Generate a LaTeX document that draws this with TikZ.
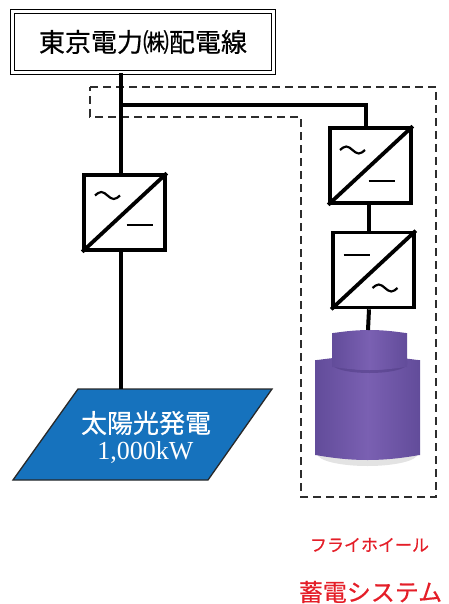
\documentclass[tikz,border=0pt]{standalone}
\usepackage{fontspec}
\setmainfont{Liberation Serif}
\newfontfamily\cjk[FakeBold=0.5]{Noto Sans CJK JP}
\usetikzlibrary{calc}
\definecolor{pvblue}{RGB}{22,114,189}
\definecolor{pvedge}{RGB}{40,40,40}
\definecolor{dashgray}{RGB}{45,45,45}
\definecolor{flyred}{RGB}{228,30,40}
\definecolor{cylmid}{RGB}{122,96,178}
\definecolor{cyledge}{RGB}{98,76,154}
\definecolor{cyldark}{RGB}{80,60,132}
\tikzset{
  wire/.style={line width=4pt, black},
  conv/.style={draw, line width=3.6pt, minimum width=81pt, minimum height=75pt, inner sep=0pt},
  sym/.style={line width=2.2pt, black},
  zone/.style={dash pattern=on 8pt off 5pt, line width=1.8pt, dashgray},
  acwave/.pic={\draw[sym] (-12.5,0) sin (-6.25,-3.5) cos (0,0) sin (6.25,3.5) cos (12.5,0);},
  dcbar/.pic={\draw[sym] (-13,0) -- (13,0);},
  label/.style={font=\cjk\fontsize{26}{30}\selectfont, inner sep=0pt},
}
\begin{document}
\begin{tikzpicture}[x=1pt,y=-1pt]
\useasboundingbox (0,0) rectangle (448,604);

% storage zone boundary
\draw[zone] (90,87) -- (436,87) -- (436,497) -- (301,497) -- (301,117) -- (90,117) -- cycle;

% grid connection
\node[draw, double, double distance=2.4pt, line width=1.3pt,
      minimum width=261pt, minimum height=61pt, inner sep=0pt,
      label] (grid) at (143,42) {東京電力㈱配電線};

% converters
\node[conv] (c1) at (124.5,212.5) {};
\node[conv] (c2) at (370.5,165.5) {};
\node[conv] (c3) at (373.5,270) {};
\foreach \c in {c1,c2,c3}
  \draw[line width=3.8pt] (\c.south west) -- (\c.north east);
\pic at ($(c1.center)+(-17,-17)$) {acwave};
\pic at ($(c1.center)+(15,12.5)$) {dcbar};
\pic at ($(c2.center)+(-18,-15.5)$) {acwave};
\pic at ($(c2.center)+(11,15.5)$) {dcbar};
\pic at ($(c3.center)+(-17,-15)$) {dcbar};
\pic at ($(c3.center)+(11.5,18)$) {acwave};

% photovoltaic plant
\draw[fill=pvblue, draw=pvedge, line width=1.3pt]
  (78,389) -- (272,389) -- (208,480) -- (13,480) -- cycle;
\coordinate (pvtop) at (121,389);
\node[label, text=white, align=center] (pvname) at (146,423) {太陽光発電};
\node[inner sep=0pt, text=white, font=\fontsize{26}{30}\selectfont] (pvpower) at (145.5,452) {1,000kW};

% flywheel drum
\fill[gray!22] (367.5,454) ellipse[x radius=50, y radius=12];
\shade[left color=cyledge, right color=cyledge, middle color=cylmid, rounded corners=7pt]
  (315,400) -- (315,448) arc[start angle=180, end angle=0, x radius=52.5, y radius=12]
  -- (420,367) arc[start angle=0, end angle=-180, x radius=52.5, y radius=11] -- cycle;
\fill[cyldark, opacity=0.55]
  (332,361) arc[start angle=180, end angle=0, x radius=37.5, y radius=9]
  -- (407,364) arc[start angle=0, end angle=180, x radius=37.5, y radius=9] -- cycle;
\shade[left color=cyledge, right color=cyledge, middle color=cylmid, rounded corners=5pt]
  (332,350) -- (332,362) arc[start angle=180, end angle=0, x radius=37.5, y radius=8]
  -- (407,338) arc[start angle=0, end angle=-180, x radius=37.5, y radius=8] -- cycle;
\coordinate (drumtop) at (368,330);

% wiring
\coordinate (tap) at (121,105);
\coordinate (c2in) at (366,128);
\draw[wire] (grid.south -| tap) -- (c1.north -| tap);
\draw[wire] (c1.south -| tap) -- (pvtop);
\draw[wire] (tap) -| (c2in);
\draw[wire] (c2.south -| 369,0) -- (c3.north -| 369,0);
\draw[wire] (c3.south -| 369,0) -- (drumtop);

% storage caption
\node[text=flyred, font=\cjk\fontsize{17}{20}\selectfont, inner sep=0pt] (cap1) at (369.5,545) {フライホイール};
\node[text=flyred, font=\cjk\fontsize{24}{28}\selectfont, inner sep=0pt] (cap2) at (370.5,592) {蓄電システム};
\end{tikzpicture}
\end{document}
